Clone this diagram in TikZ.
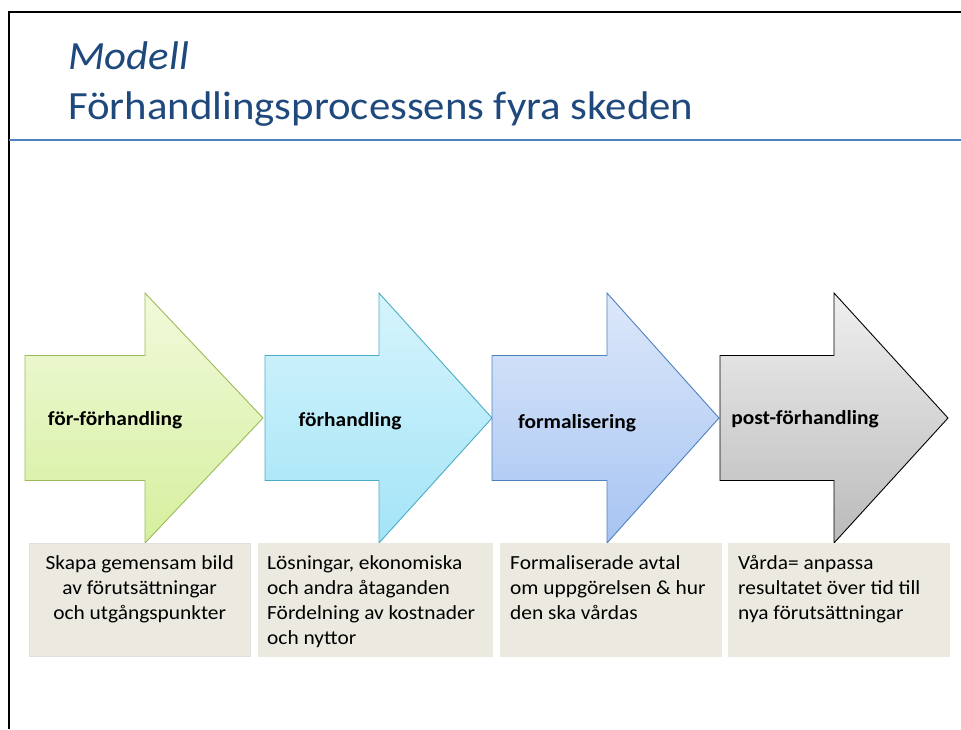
\documentclass[tikz,border=0pt]{standalone}
\usepackage{fontspec}
\setmainfont{Carlito}[FakeStretch=1.07]
\usetikzlibrary{positioning}

\definecolor{rubrik}{HTML}{1F497D}
\definecolor{linje}{HTML}{4F81BD}
\definecolor{ruta}{HTML}{ECE9E0}
\definecolor{gronkant}{HTML}{9BBB59}
\definecolor{gronljus}{HTML}{F1FADB}
\definecolor{gronmork}{HTML}{D6EF9E}
\definecolor{cyankant}{HTML}{4BACC6}
\definecolor{cyanljus}{HTML}{D6F4FC}
\definecolor{cyanmork}{HTML}{A3E4F7}
\definecolor{blaljus}{HTML}{DDE8FA}
\definecolor{blamork}{HTML}{A6C4F2}

\begin{document}
\begin{tikzpicture}[x=1pt, y=-1pt]
			\tikzset{pil/.style={line width=0.9pt, line join=miter},
				etikett/.style={font=\fontsize{20}{24}\selectfont\bfseries, inner sep=0pt},
				ruta/.style={fill=ruta, draw=ruta, minimum height=113pt, anchor=north west, inner sep=0pt},
				tekst/.style={font=\fontsize{20}{25}\selectfont, inner sep=0pt, text depth=0pt}};

			\useasboundingbox (0,0) rectangle (961,729);

			% ram och rubrik
			\draw[line width=1.4pt] (9,729) -- (9,12) -- (961,12);
			\draw[linje, line width=2.2pt] (9,140) -- (961,140);

			\node[anchor=base west, inner sep=0pt, rubrik, font=\fontsize{40}{44}\selectfont\itshape] (modell) at (68,69) {Modell};
			\node[anchor=base west, inner sep=0pt, rubrik, font=\fontsize{40}{44}\selectfont] (titel) at (68,119) {Förhandlingsprocessens fyra skeden};

			% pilar
			\draw[pil, draw=gronkant, top color=gronljus, bottom color=gronmork]
				(25,355.5) -- (145,355.5) -- (145,293) -- (263,418) -- (145,543) -- (145,480.5) -- (25,480.5) -- cycle;
			\draw[pil, draw=cyankant, top color=cyanljus, bottom color=cyanmork]
				(265,355.5) -- (379,355.5) -- (379,293) -- (492,418) -- (379,543) -- (379,480.5) -- (265,480.5) -- cycle;
			\draw[pil, draw=linje, top color=blaljus, bottom color=blamork]
				(492,355.5) -- (607,355.5) -- (607,293) -- (719,418) -- (607,543) -- (607,480.5) -- (492,480.5) -- cycle;
			\draw[pil, draw=black, top color=black!6, bottom color=black!27]
				(720,355.5) -- (834,355.5) -- (834,293) -- (948,418) -- (834,543) -- (834,480.5) -- (720,480.5) -- cycle;

			\node[etikett] (e1) at (115,420) {för-förhandling};
			\node[etikett] (e2) at (350,421) {förhandling};
			\node[etikett] (e3) at (577,423) {formalisering};
			\node[etikett] (e4) at (805,419) {post-förhandling};

			% rutor
			\node[ruta, draw=black!12, minimum width=221pt] (r1) at (29,543) {};
			\node[ruta, minimum width=234pt] (r2) at (258,543) {};
			\node[ruta, minimum width=221pt] (r3) at (500,543) {};
			\node[ruta, minimum width=221pt] (r4) at (728,543) {};

			\node[tekst, align=center, below=12pt of r1.north] (t1) {Skapa gemensam bild\\av förutsättningar\\och utgångspunkter};
			\node[tekst, align=left, below right=12pt and 9pt of r2.north west] (t2) {Lösningar, ekonomiska\\och andra åtaganden\\Fördelning av kostnader\\och nyttor};
			\node[tekst, align=left, below right=12pt and 10pt of r3.north west] (t3) {Formaliserade avtal\\om uppgörelsen \& hur\\den ska vårdas};
			\node[tekst, align=left, below right=12pt and 10pt of r4.north west] (t4) {Vårda= anpassa\\resultatet över tid till\\nya förutsättningar};

		\end{tikzpicture}
\end{document}
